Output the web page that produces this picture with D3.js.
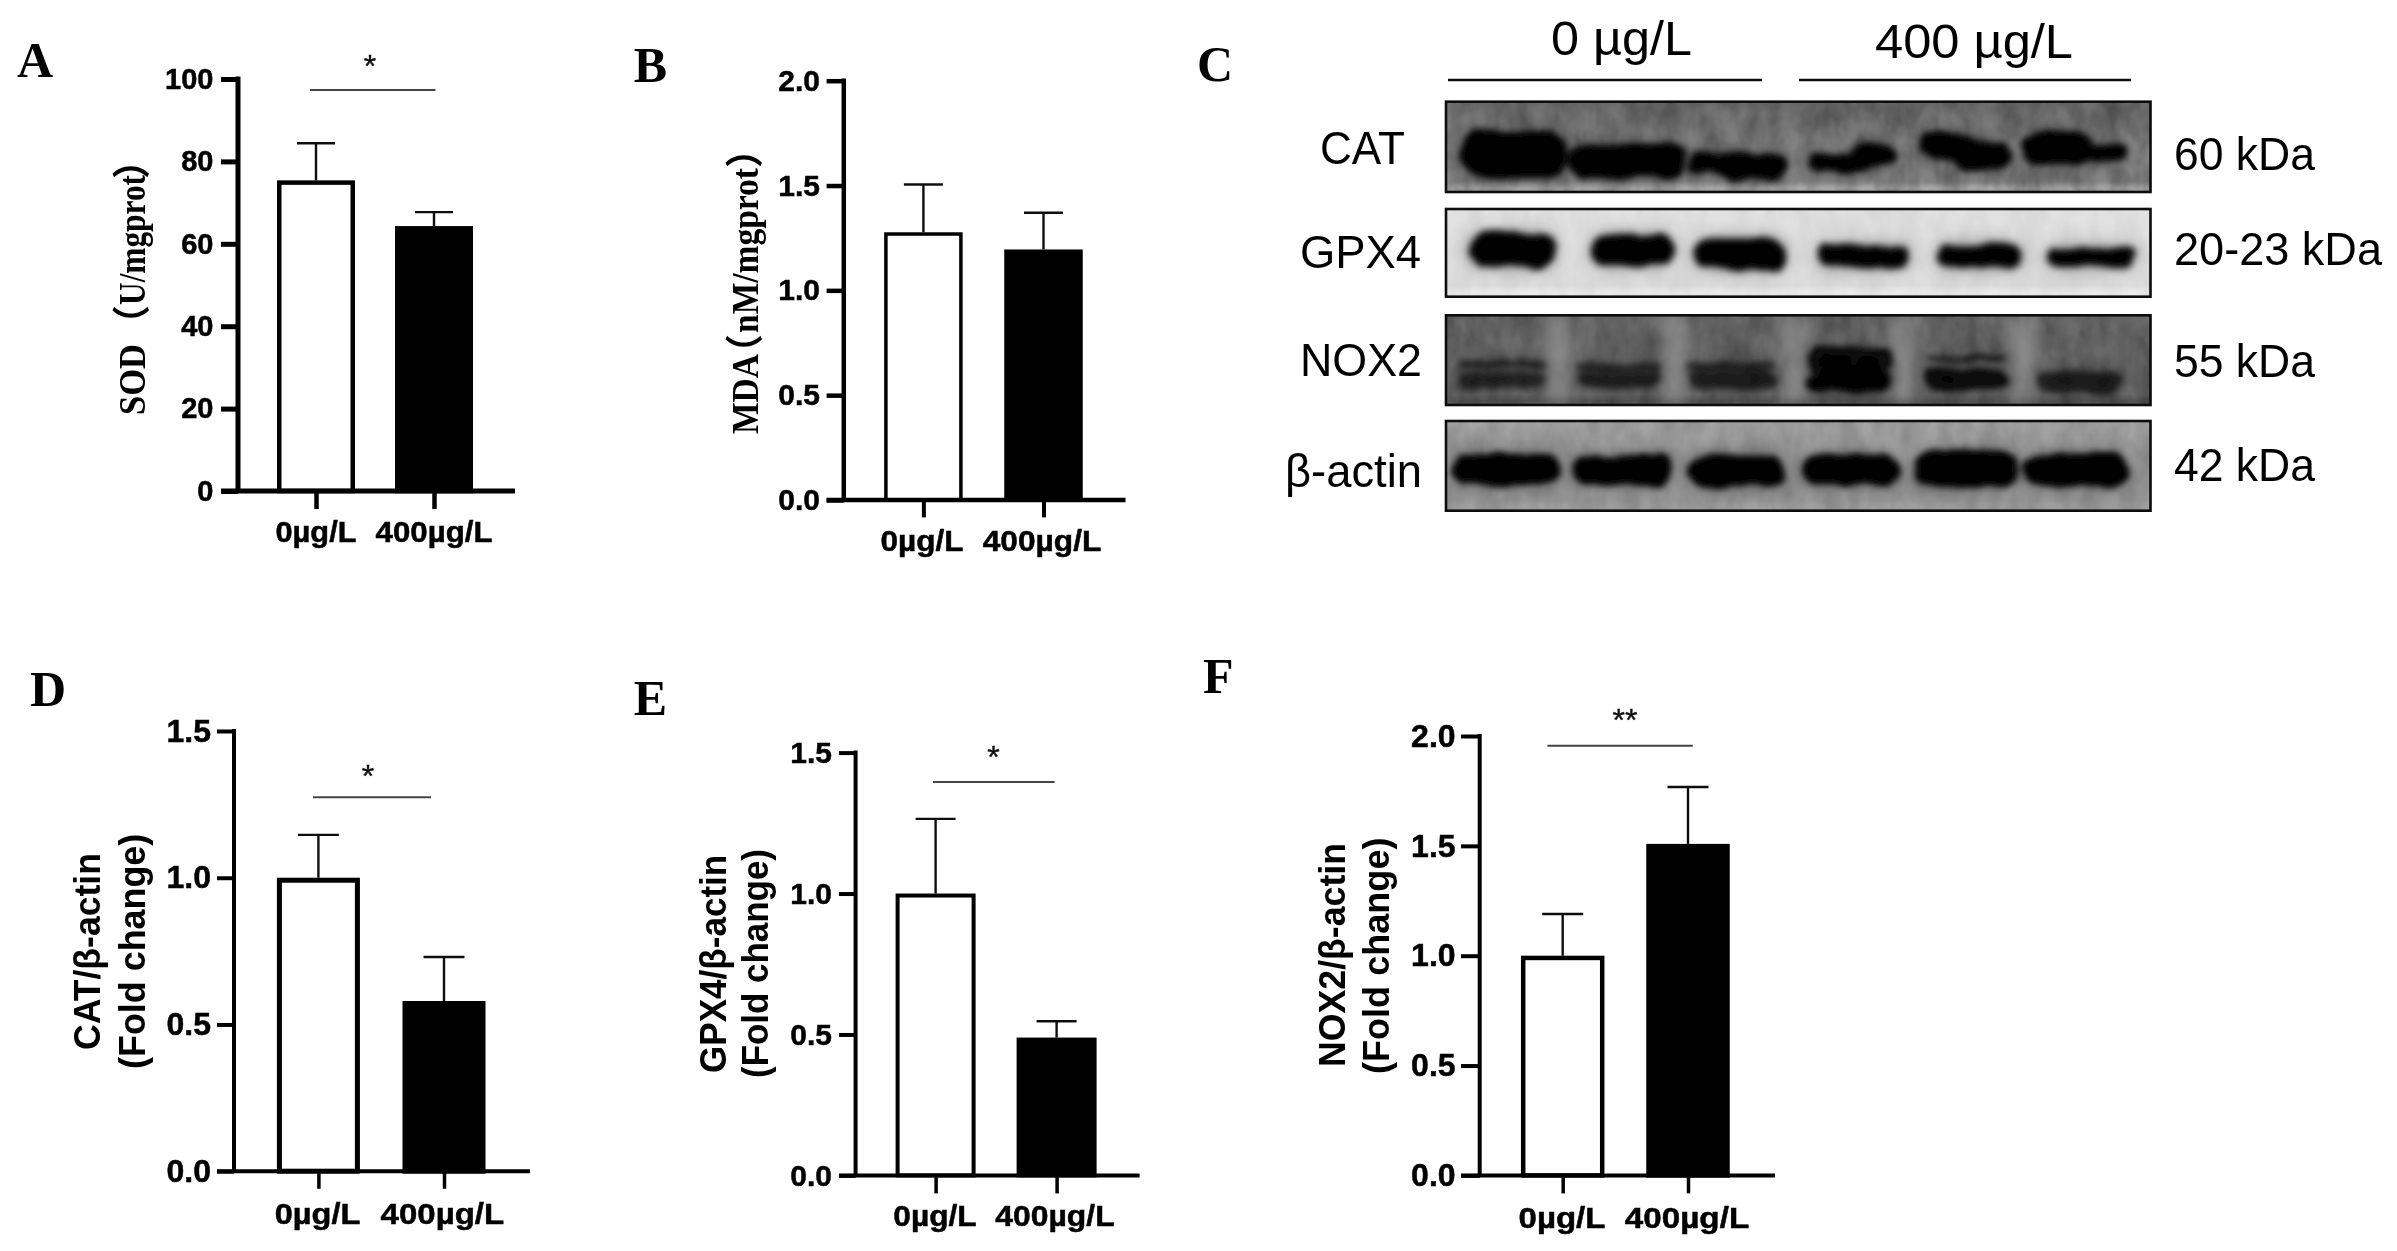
<!DOCTYPE html>
<html><head><meta charset="utf-8">
<script src="https://cdn.jsdelivr.net/npm/d3@7/dist/d3.min.js"></script>
<style>html,body{margin:0;padding:0;background:#fff}svg{display:block}</style>
</head><body><svg id="fig" width="2397" height="1251"></svg>
<script>
// ---------- data ----------
const categories = ["0µg/L", "400µg/L"];
const sodValues = [75.4, 64.3], sodTops = [84.4, 67.7];
const mdaValues = [1.277, 1.195], mdaTops = [1.505, 1.37];
const catValues = [1.0, 0.58], catTops = [1.146, 0.73];
const gpxValues = [1.0, 0.489], gpxTops = [1.265, 0.547];
const noxValues = [1.0, 1.509], noxTops = [1.19, 1.768];
const ticks100 = [0, 20, 40, 60, 80, 100];
const ticks15 = [0, 0.5, 1.0, 1.5];
const ticks20 = [0, 0.5, 1.0, 1.5, 2.0];
const blotNames = ["CAT", "GPX4", "NOX2", "β-actin"];
const blotSizes = ["60 kDa", "20-23 kDa", "55 kDa", "42 kDa"];
const doseLabels = ["0 µg/L", "400 µg/L"];
// band readings: centre along blot %, centre down blot %, half width %, half height %, darkness
const catBands = [[9.6,58.8,7.7,25.7,1],[25.6,66.2,8.3,18.4,1],[38.8,68,4.4,11.8,1],[43.8,71.7,4.4,15.4,1],[55.9,68,4.2,10.3,1],[60.9,58.8,3.3,11,1],[71.3,49.6,3.9,14,1],[76.3,60.7,3.9,14.7,1],[86.8,51.5,5,18.4,1],[93.4,57,3.1,9.2,1]];
const gpxBands = [[9.4,46.8,6.1,19,1],[26.4,46.8,5.8,17.1,1],[41.8,51.3,6.4,17.5,1],[59.2,53.6,6.4,12.9,1],[75.7,53.6,6.1,14,1],[91.5,54.8,6.1,11,1]];
const noxBands = [[7.9,54.3,6.1,3.7,.65],[7.9,72.1,6.1,9.3,.6],[24.5,56.5,5.9,3.7,.65],[24.5,71.4,5.9,9.3,.65],[40.7,57.2,6.2,4.4,.65],[40.7,72.1,6.2,9.3,.65],[57.3,50,6.1,13,.9],[57.3,74,6.1,11,1],[73.8,48,5.5,3,.9],[73.8,71.4,5.9,11,.9],[90.1,74,5.9,13,.65]];
const actinBands = [[8.5,54.6,7.5,16.7,1],[25.1,55,7.1,16,1],[41.2,55.4,6.8,17.5,1],[57.4,54.6,6.8,16.7,1],[73.9,53.2,7.5,20,1],[89.5,55,7.4,18.2,1]];
const laneGaps = [16.2, 32.8, 49.4, 64.8, 81.8];

// ---------- layout ----------
const SANS = "'Liberation Sans',Arial,sans-serif";
const SERIF = "'Liberation Serif','Noto Sans CJK SC',serif";
const panels = [
 {letter:"A",lx:17,ly:76.5,vals:sodValues,tops:sodTops,ticks:ticks100,fmt:d3.format("d"),max:100,axisX:238,yTop:79,yBase:491,xEnd:515,tickL:221,tx:[316,434],tickB:509,
  barW:78,sw:4.5,ax:5,capW:38,fs:29,pad:7.5,xl:[316,434],xw:[81,117],xb:541.5,sig:[310,435.5,90],star:"*",sx:370,sb:77,
  titles:[{x:145,y0:415,fs:38,serif:true,parts:[["SOD",0,71],["（",72,38],["U/mgprot",110,130],["）",236,38]]}]},
 {letter:"B",lx:633.7,ly:81.5,vals:mdaValues,tops:mdaTops,ticks:ticks20,fmt:d3.format(".1f"),max:2,axisX:843.8,yTop:80.7,yBase:500,xEnd:1125.5,tickL:826.6,tx:[923.4,1043.5],tickB:517.4,
  barW:78.5,sw:3.5,ax:4.5,capW:39,fs:30,pad:6.6,xl:[922,1042],xw:[83,118.6],xb:551,
  titles:[{x:757.7,y0:434,fs:38,serif:true,parts:[["MDA",0,80],["（",62,38],["nM/mgprot",101,165],["）",266,38]]}]},
 {letter:"D",lx:30,ly:706,vals:catValues,tops:catTops,ticks:ticks15,fmt:d3.format(".1f"),max:1.5,axisX:234,yTop:731,yBase:1171.2,xEnd:530,tickL:217,tx:[318.4,444],tickB:1188.8,
  barW:83,sw:5,ax:4,capW:41,fs:32,pad:6,xl:[317.6,442.4],xw:[85.7,123.6],xb:1224,sig:[313,431,797.3],star:"*",sx:368,sb:787,
  titles:[{t:"CAT/β-actin",x:100,y0:1050,y1:853,fs:36},{t:"(Fold change)",x:145,y0:1069,y1:833.7,fs:36}]},
 {letter:"E",lx:633.7,ly:715,vals:gpxValues,tops:gpxTops,ticks:ticks15,fmt:d3.format(".1f"),max:1.5,axisX:855.6,yTop:752.6,yBase:1175.4,xEnd:1139.6,tickL:839,tx:[935.6,1056.6],tickB:1193.4,
  barW:80,sw:4,ax:4,capW:40,fs:30,pad:7,xl:[935,1055],xw:[83.4,119.4],xb:1226,sig:[933,1054.6,782],star:"*",sx:993.4,sb:768,
  titles:[{t:"GPX4/β-actin",x:726,y0:1073,y1:854.7,fs:36},{t:"(Fold change)",x:768,y0:1078,y1:849,fs:36}]},
 {letter:"F",lx:1203,ly:693,vals:noxValues,tops:noxTops,ticks:ticks20,fmt:d3.format(".1f"),max:2,axisX:1479.7,yTop:736,yBase:1175.4,xEnd:1775,tickL:1461,tx:[1562.7,1688],tickB:1193.4,
  barW:83.5,sw:4.5,ax:4,capW:41,fs:32,pad:5.4,xl:[1562,1687],xw:[87,124.4],xb:1228,sig:[1547.4,1692.8,745.7],star:"**",sx:1625,sb:731,
  titles:[{t:"NOX2/β-actin",x:1344.6,y0:1067,y1:843,fs:36},{t:"(Fold change)",x:1388.5,y0:1074,y1:837.5,fs:36}]}
];
const blotLayout = [
 {bands:catBands,y0:101.7,y1:192,top:"#6f6f6f",mid:"#858585",bot:"#a8a8a8",name:{x0:1320,x1:1405,b:164},size:{x1:2315,b:170},blur:3,noise:.3},
 {bands:gpxBands,y0:209,y1:296.7,top:"#e2e2e2",mid:"#dedede",bot:"#ececec",name:{x0:1300,x1:1421,b:268},size:{x1:2382,b:265},blur:3.5,noise:.05},
 {bands:noxBands,y0:315.3,y1:405,top:"#6c6c6c",mid:"#6a6a6a",bot:"#585858",name:{x0:1300,x1:1422,b:376},size:{x1:2315,b:377},blur:3,gaps:true,noise:.3},
 {bands:actinBands,y0:421,y1:510.7,top:"#a4a4a4",mid:"#9a9a9a",bot:"#a0a0a0",name:{x0:1285,x1:1422,b:486.7},size:{x1:2315,b:480.7},blur:3,noise:.15}
];

// ---------- drawing ----------
const svg = d3.select("#fig");
const defs = svg.append("defs");
const soft = defs.append("filter").attr("id","soft").attr("filterUnits","userSpaceOnUse").attr("x",0).attr("y",0).attr("width",2397).attr("height",1251);
soft.append("feGaussianBlur").attr("stdDeviation",0.55);
const root = svg.append("g").attr("filter","url(#soft)");
root.append("rect").attr("width",2397).attr("height",1251).attr("fill","#fff");

function fit(g,txt,x,y,len,fs,family,weight,stroke){
  return g.append("text").attr("x",x).attr("y",y).attr("font-family",family).attr("font-size",fs)
    .attr("font-weight",weight).attr("fill","#000").attr("stroke","#000").attr("stroke-width",stroke||0)
    .attr("textLength",len).attr("lengthAdjust","spacingAndGlyphs").text(txt);
}

panels.forEach((p)=>{
  const g = root.append("g");
  g.append("text").attr("x",p.lx).attr("y",p.ly).attr("font-family",SERIF).attr("font-weight",700).attr("font-size",50).text(p.letter);
  const y = d3.scaleLinear().domain([0,p.max]).range([p.yBase,p.yTop]);
  const x = d3.scalePoint().domain(categories).range(p.tx);
  g.selectAll(".bar").data(categories).join("rect")
    .attr("x",d=>x(d)-p.barW/2+p.sw/2).attr("width",p.barW-p.sw)
    .attr("y",(d,k)=>y(p.vals[k])+p.sw/2).attr("height",(d,k)=>y(0)-y(p.vals[k])-p.sw/2)
    .attr("fill",(d,k)=>k?"#000":"#fff").attr("stroke","#000").attr("stroke-width",p.sw);
  g.selectAll(".stem").data(categories).join("line").attr("x1",d=>x(d)).attr("x2",d=>x(d))
    .attr("y1",(d,k)=>y(p.vals[k])).attr("y2",(d,k)=>y(p.tops[k])).attr("stroke","#111").attr("stroke-width",2.4);
  g.selectAll(".cap").data(categories).join("line").attr("x1",d=>x(d)-p.capW/2).attr("x2",d=>x(d)+p.capW/2)
    .attr("y1",(d,k)=>y(p.tops[k])).attr("y2",(d,k)=>y(p.tops[k])).attr("stroke","#111").attr("stroke-width",2.4);
  const yAxis = d3.axisLeft(y).tickValues(p.ticks).tickFormat(p.fmt).tickSize(p.axisX-p.tickL).tickSizeOuter(0).tickPadding(p.pad);
  const ya = g.append("g").attr("transform",`translate(${p.axisX},0)`).call(yAxis);
  ya.select(".domain").attr("stroke","#000").attr("stroke-width",p.ax).attr("d",`M0,${p.yTop-p.ax/2}V${p.yBase}`);
  ya.selectAll(".tick line").attr("stroke","#000").attr("stroke-width",p.ax);
  ya.selectAll(".tick text").attr("font-family",SANS).attr("font-weight",700).attr("font-size",p.fs).attr("fill","#000").attr("stroke","#000").attr("stroke-width",.5);
  const xAxis = d3.axisBottom(x).tickSize(p.tickB-p.yBase).tickSizeOuter(0).tickFormat("");
  const xa = g.append("g").attr("transform",`translate(0,${p.yBase})`).call(xAxis);
  xa.select(".domain").attr("stroke","#000").attr("stroke-width",p.ax).attr("d",`M${p.tickL},0H${p.xEnd}`);
  xa.selectAll(".tick line").attr("stroke","#000").attr("stroke-width",p.ax-0.5);
  categories.forEach((c,k)=>{ fit(g,c,p.xl[k]-p.xw[k]/2,p.xb,p.xw[k],30,SANS,700,.5); });
  p.titles.forEach(t=>{
    const tx = g.append("text").attr("transform",`translate(${t.x},${t.y0}) rotate(-90)`)
     .attr("font-family",t.serif?SERIF:SANS).attr("font-weight",700).attr("font-size",t.fs).attr("fill","#000");
    if(t.parts){
      t.parts.forEach(q=>tx.append("tspan").attr("x",q[1]).attr("y",0).attr("textLength",q[2]).attr("lengthAdjust","spacingAndGlyphs").text(q[0]));
    } else {
      tx.attr("textLength",t.y0-t.y1).attr("lengthAdjust","spacingAndGlyphs").text(t.t);
    }
  });
  if(p.sig){
    g.append("line").attr("x1",p.sig[0]).attr("x2",p.sig[1]).attr("y1",p.sig[2]).attr("y2",p.sig[2]).attr("stroke","#444").attr("stroke-width",2);
    g.append("text").attr("x",p.sx).attr("y",p.sb).attr("text-anchor","middle").attr("font-family",SANS).attr("font-size",32).attr("fill","#111").attr("stroke","#111").attr("stroke-width",.4).text(p.star);
  }
});

// panel C: western blots
const gc = root.append("g");
gc.append("text").attr("x",1197).attr("y",81).attr("font-family",SERIF).attr("font-weight",700).attr("font-size",50).text("C");
const blotX = d3.scaleLinear().domain([0,100]).range([1446,2150.5]);
[[1448,1762,1551,1692,55],[1799,2131,1875,2073,58.3]].forEach((d,i)=>{
  gc.append("line").attr("x1",d[0]).attr("x2",d[1]).attr("y1",80).attr("y2",80).attr("stroke","#111").attr("stroke-width",2.6);
  fit(gc,doseLabels[i],d[2],d[4],d[3]-d[2],48,SANS,400);
});
blotLayout.forEach((b,i)=>{
  const bx=blotX(0), bw=blotX(100)-blotX(0), bh=b.y1-b.y0;
  const yy = d3.scaleLinear().domain([0,100]).range([b.y0,b.y1]);
  const gid="bg"+i, cid="clip"+i, fid="blob"+i, hid="halo"+i, nid="noise"+i;
  const lg = defs.append("linearGradient").attr("id",gid).attr("x1",0).attr("x2",0).attr("y1",0).attr("y2",1);
  [[0,b.top],[.55,b.mid],[.88,b.mid],[.95,b.bot],[1,b.bot]].forEach(s=>lg.append("stop").attr("offset",s[0]).attr("stop-color",s[1]));
  defs.append("clipPath").attr("id",cid).append("rect").attr("x",bx).attr("y",b.y0).attr("width",bw).attr("height",bh);
  const region = f=>f.attr("filterUnits","userSpaceOnUse").attr("x",bx-30).attr("y",b.y0-30).attr("width",bw+60).attr("height",bh+60);
  const f = region(defs.append("filter").attr("id",fid));
  f.append("feTurbulence").attr("type","fractalNoise").attr("baseFrequency","0.035 0.05").attr("numOctaves",2).attr("seed",i+3).attr("result","t");
  f.append("feDisplacementMap").attr("in","SourceGraphic").attr("in2","t").attr("scale",11).attr("xChannelSelector","R").attr("yChannelSelector","G").attr("result","d");
  f.append("feGaussianBlur").attr("in","d").attr("stdDeviation",b.blur);
  const h = region(defs.append("filter").attr("id",hid));
  h.append("feGaussianBlur").attr("stdDeviation",9);
  const n = region(defs.append("filter").attr("id",nid));
  n.append("feTurbulence").attr("type","fractalNoise").attr("baseFrequency","0.05 0.03").attr("numOctaves",3).attr("seed",i+11);
  n.append("feColorMatrix").attr("values","0 0 0 0 0  0 0 0 0 0  0 0 0 0 0  1.6 0 0 0 -0.45");
  const g = gc.append("g");
  g.append("rect").attr("x",bx).attr("y",b.y0).attr("width",bw).attr("height",bh).attr("fill",`url(#${gid})`);
  const inner = g.append("g").attr("clip-path",`url(#${cid})`);
  inner.append("rect").attr("x",bx).attr("y",b.y0).attr("width",bw).attr("height",bh).attr("filter",`url(#${nid})`).attr("opacity",b.noise);
  if(b.gaps){
    inner.append("g").attr("filter",`url(#${hid})`).selectAll("rect").data(laneGaps).join("rect").attr("x",d=>blotX(d)-11).attr("width",22)
      .attr("y",b.y0).attr("height",bh).attr("fill","#b0b0b0").attr("opacity",.55);
  }
  const drawBands = (sel,op)=>sel.selectAll("rect").data(b.bands).join("rect")
    .attr("x",d=>blotX(d[0]-d[2])).attr("width",d=>blotX(d[0]+d[2])-blotX(d[0]-d[2]))
    .attr("y",d=>yy(d[1]-d[3])).attr("height",d=>yy(d[1]+d[3])-yy(d[1]-d[3]))
    .attr("rx",d=>(yy(d[1]+d[3])-yy(d[1]-d[3]))*.48)
    .attr("fill","#000").attr("opacity",d=>d[4]*op);
  drawBands(inner.append("g").attr("filter",`url(#${hid})`),.4);
  drawBands(inner.append("g").attr("filter",`url(#${fid})`),1);
  g.append("rect").attr("x",bx).attr("y",b.y0).attr("width",bw).attr("height",bh)
    .attr("fill","none").attr("stroke","#0a0a0a").attr("stroke-width",2.6);
  fit(gc,blotNames[i],b.name.x0,b.name.b,b.name.x1-b.name.x0,46,SANS,400);
  fit(gc,blotSizes[i],2174,b.size.b,b.size.x1-2174,46,SANS,400);
});
</script></body></html>
